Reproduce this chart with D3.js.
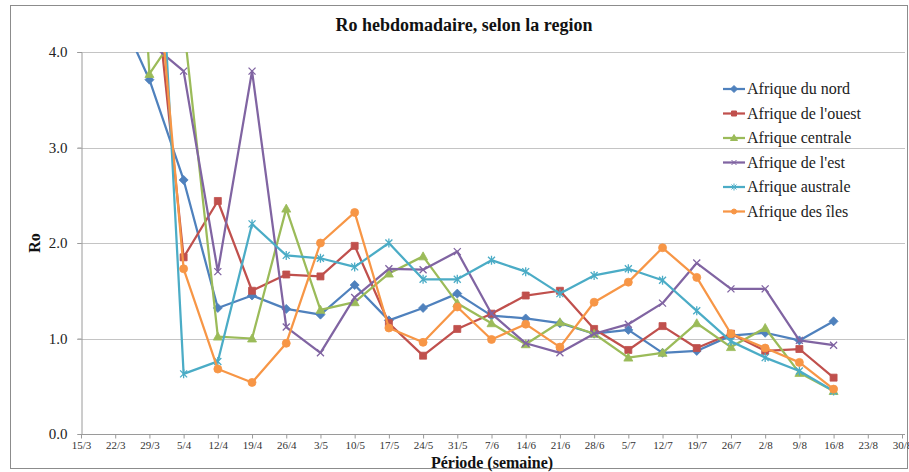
<!DOCTYPE html>
<html><head><meta charset="utf-8">
<script src="https://cdn.jsdelivr.net/npm/d3@7"></script>
<style>body{margin:0;background:#fff}svg{display:block}text{font-family:'Liberation Serif','Times New Roman',serif}</style>
</head><body>
<svg id="c" width="909" height="472"></svg>
<script>
const categories = ["15/3","22/3","29/3","5/4","12/4","19/4","26/4","3/5","10/5","17/5","24/5","31/5","7/6","14/6","21/6","28/6","5/7","12/7","19/7","26/7","2/8","9/8","16/8","23/8","30/8"];
const yTicks = [0,1,2,3,4];
const seriesNames = ["Afrique du nord","Afrique de l'ouest","Afrique centrale","Afrique de l'est","Afrique australe","Afrique des îles"];
const nord     = [null,4.5,3.71,2.66,1.32,1.45,1.31,1.25,1.56,1.19,1.32,1.47,1.24,1.21,1.16,1.05,1.09,0.85,0.87,1.03,1.06,0.98,1.18,null,null];
const ouest    = [null,null,5.3,1.85,2.44,1.50,1.67,1.65,1.97,1.16,0.82,1.10,1.26,1.45,1.50,1.10,0.88,1.13,0.90,1.05,0.87,0.89,0.59,null,null];
const centrale = [null,10.0,3.77,4.3,1.02,1.00,2.36,1.30,1.38,1.68,1.86,1.37,1.16,0.94,1.17,1.05,0.80,0.85,1.16,0.91,1.11,0.64,0.45,null,null];
const est      = [null,null,4.1,3.80,1.70,3.80,1.12,0.85,1.43,1.73,1.72,1.91,1.26,0.95,0.85,1.05,1.15,1.37,1.79,1.52,1.52,0.98,0.93,null,null];
const australe = [null,null,7.4,0.63,0.76,2.20,1.87,1.84,1.75,2.00,1.62,1.62,1.82,1.70,1.47,1.66,1.73,1.61,1.29,0.97,0.80,0.66,0.45,null,null];
const iles     = [null,null,5.8,1.73,0.68,0.54,0.95,2.00,2.32,1.11,0.96,1.33,0.99,1.15,0.91,1.38,1.59,1.95,1.64,1.05,0.90,0.75,0.47,null,null];
const seriesValues = [nord, ouest, centrale, est, australe, iles];
const colors = ["#4F81BD","#C0504D","#9BBB59","#8064A2","#4BACC6","#F79646"];
const markers = ["diamond","square","triangle","x","star","circle"];

const svg = d3.select("#c");
const FONT = "'Liberation Serif','Times New Roman',serif";
const L = 81, R = 902, T = 52, B = 434;

svg.append("rect").attr("x",10.5).attr("y",5.5).attr("width",897).attr("height",463)
  .attr("fill","#fff").attr("stroke","#8c8c8c").attr("stroke-width",1);

const x = d3.scalePoint().domain(categories).range([L,R]).padding(0);
const y = d3.scaleLinear().domain([0,4]).range([B,T]);

// gridlines
svg.append("g").selectAll("line").data(yTicks.filter(d=>d>0)).join("line")
  .attr("x1",L-4).attr("x2",R+3).attr("y1",d=>Math.round(y(d))+0.5).attr("y2",d=>Math.round(y(d))+0.5)
  .attr("stroke","#C4C4C4").attr("stroke-width",1);

// y axis
const ya = svg.append("g").attr("transform",`translate(${L+0.5},0)`)
  .call(d3.axisLeft(y).tickValues(yTicks).tickFormat(d3.format(".1f")).tickSize(4).tickPadding(10));
ya.select(".domain").attr("stroke","#9a9a9a");
ya.selectAll(".tick line").attr("stroke","#9a9a9a");
ya.selectAll("text").attr("font-family",FONT).style("font-family",FONT).attr("font-size","15px").attr("fill","#222");

// x axis
const xa = svg.append("g").attr("transform",`translate(0,${B+0.5})`)
  .call(d3.axisBottom(x).tickSize(4).tickPadding(3));
xa.select(".domain").attr("stroke","#9a9a9a").attr("d",`M${L},0H${R+3}`);
xa.selectAll(".tick line").attr("stroke","#9a9a9a");
xa.selectAll("text").attr("font-family",FONT).style("font-family",FONT).attr("font-size","11px").attr("fill","#333");

// clip
svg.append("defs").append("clipPath").attr("id","pc").append("rect")
  .attr("x",L-10).attr("y",T).attr("width",R-L+20).attr("height",B-T+10);

function markerPath(type, s){
  const h = s/2;
  switch(type){
    case "diamond": return `M0,${-h-1}L${h+1},0L0,${h+1}L${-h-1},0Z`;
    case "square": return `M${-h},${-h}H${h}V${h}H${-h}Z`;
    case "triangle": return `M0,${-h-1}L${h+1},${h}L${-h-1},${h}Z`;
    case "x": return `M${-h},${-h}L${h},${h}M${-h},${h}L${h},${-h}`;
    case "star": return `M${-h},${-h}L${h},${h}M${-h},${h}L${h},${-h}M0,${-h-1}V${h+1}`;
    case "circle": return `M${h},0A${h},${h},0,1,1,${-h},0A${h},${h},0,1,1,${h},0Z`;
  }
}
const stroked = t => t==="x"||t==="star";

const plot = svg.append("g").attr("clip-path","url(#pc)");
const line = d3.line().defined(d=>d.v!=null).x(d=>x(d.c)).y(d=>y(d.v));
seriesValues.forEach((vals,i)=>{
  const pts = vals.map((v,j)=>({c:categories[j],v}));
  const g = plot.append("g");
  g.append("path").datum(pts).attr("d",line).attr("fill","none")
    .attr("stroke",colors[i]).attr("stroke-width",2.25).attr("stroke-linejoin","round");
  g.selectAll("path.m").data(pts.filter(d=>d.v!=null)).join("path").attr("class","m")
    .attr("transform",d=>`translate(${x(d.c)},${y(d.v)})`)
    .attr("d",markerPath(markers[i], i===5?8:7))
    .attr("fill",stroked(markers[i])?"none":colors[i])
    .attr("stroke",colors[i]).attr("stroke-width",stroked(markers[i])?1.3:0.8);
});

// legend
const lg = svg.append("g");
seriesNames.forEach((n,i)=>{
  const cy = 89 + i*24.5;
  lg.append("line").attr("x1",723).attr("x2",745).attr("y1",cy).attr("y2",cy)
    .attr("stroke",colors[i]).attr("stroke-width",2.25);
  lg.append("path").attr("transform",`translate(734,${cy})`).attr("d",markerPath(markers[i],5))
    .attr("fill",stroked(markers[i])?"none":colors[i]).attr("stroke",colors[i]).attr("stroke-width",1);
  lg.append("text").attr("x",747).attr("y",cy+5).text(n)
    .attr("font-family",FONT).style("font-family",FONT).attr("font-size","16px").attr("fill","#222");
});

// titles
svg.append("text").attr("x",464).attr("y",31).attr("text-anchor","middle")
  .attr("font-family",FONT).attr("font-weight","bold").attr("font-size","18px").attr("fill","#111")
  .text("Ro hebdomadaire, selon la region");
svg.append("text").attr("x",492).attr("y",468).attr("text-anchor","middle")
  .attr("font-family",FONT).attr("font-weight","bold").attr("font-size","16px").attr("fill","#111")
  .text("Période (semaine)");
svg.append("text").attr("transform","translate(40,243) rotate(-90)").attr("text-anchor","middle")
  .attr("font-family",FONT).attr("font-weight","bold").attr("font-size","16px").attr("fill","#111")
  .text("Ro");
</script>
</body></html>
